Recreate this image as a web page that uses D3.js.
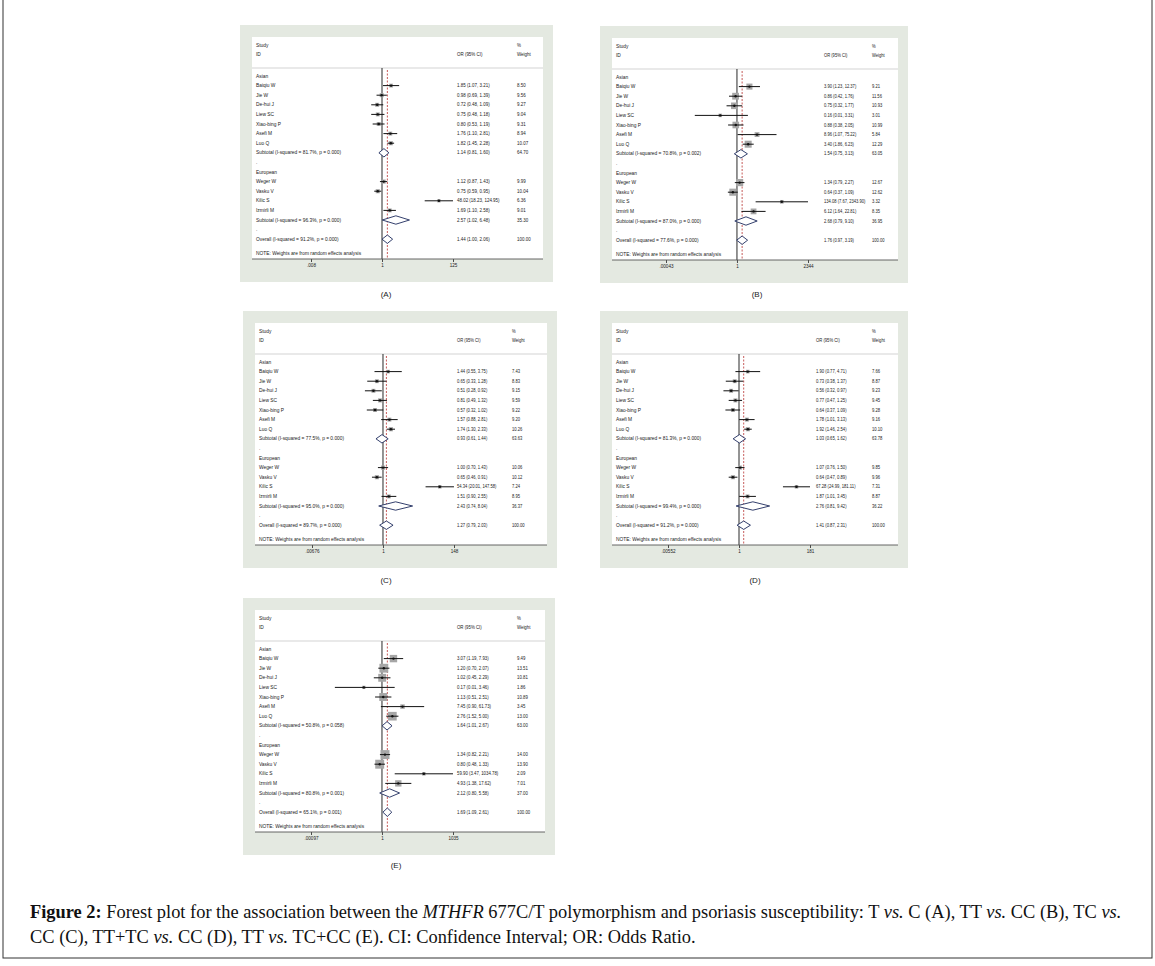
<!DOCTYPE html>
<html>
<head>
<meta charset="utf-8">
<title>forest plots</title>
<script src="https://cdn.jsdelivr.net/npm/d3@7/dist/d3.min.js"></script>
<style>
body{margin:0;background:#fff;}
svg text{font-family:"Liberation Sans",Arial,sans-serif;fill:#222;}
.cap text{font-family:"Liberation Serif","DejaVu Serif",serif;fill:#111;}
</style>
</head>
<body>
<script>
// study names, first 7 Asian, last 4 European
var studies=["Baiqiu W","Jie W","De-hui J","Liew SC","Xiao-bing P","Asefi M","Luo Q","Weger W","Vasku V","Kilic S","Izmirli M"];
var groups=["Asian","European"];

// (A) T vs C
var A_or=[1.85,0.98,0.72,0.75,0.80,1.76,1.82,1.12,0.75,48.02,1.69];
var A_lo=[1.07,0.69,0.48,0.48,0.53,1.10,1.45,0.87,0.59,18.23,1.10];
var A_hi=[3.21,1.39,1.09,1.18,1.19,2.81,2.28,1.43,0.95,124.95,2.58];
var A_wt=[8.50,9.56,9.27,9.04,9.31,8.94,10.07,9.99,10.04,6.36,9.01];
// subtotal Asian, subtotal European, overall
var A_sOr=[1.14,2.57,1.44], A_sLo=[0.81,1.02,1.00], A_sHi=[1.60,6.48,2.06], A_sWt=[64.70,35.30,100.00];
var A_isq=["81.7","96.3","91.2"], A_p=["0.000","0.000","0.000"];
var A_ticks=[0.008,1,125], A_tickLab=[".008","1","125"];

// (B) TT vs CC
var B_or=[3.90,0.86,0.75,0.16,0.88,8.96,3.40,1.34,0.64,134.08,6.12];
var B_lo=[1.23,0.42,0.32,0.01,0.38,1.07,1.86,0.79,0.37,7.67,1.64];
var B_hi=[12.37,1.76,1.77,3.31,2.05,75.22,6.23,2.27,1.09,2343.90,22.81];
var B_wt=[9.21,11.56,10.93,3.01,10.99,5.84,12.29,12.67,12.62,3.32,8.35];
var B_sOr=[1.54,2.68,1.76], B_sLo=[0.75,0.79,0.97], B_sHi=[3.13,9.10,3.19], B_sWt=[63.05,36.95,100.00];
var B_isq=["70.8","87.0","77.6"], B_p=["0.002","0.000","0.000"];
var B_ticks=[0.00043,1,2344], B_tickLab=[".00043","1","2344"];

// (C) TC vs CC
var C_or=[1.44,0.65,0.51,0.81,0.57,1.57,1.74,1.00,0.65,54.34,1.51];
var C_lo=[0.55,0.33,0.28,0.49,0.32,0.88,1.30,0.70,0.46,20.01,0.90];
var C_hi=[3.75,1.28,0.92,1.32,1.02,2.81,2.33,1.43,0.91,147.58,2.55];
var C_wt=[7.43,8.83,9.15,9.59,9.22,9.20,10.26,10.06,10.12,7.24,8.95];
var C_sOr=[0.93,2.43,1.27], C_sLo=[0.61,0.74,0.79], C_sHi=[1.44,8.04,2.03], C_sWt=[63.63,36.37,100.00];
var C_isq=["77.5","95.0","89.7"], C_p=["0.000","0.000","0.000"];
var C_ticks=[0.00676,1,148], C_tickLab=[".00676","1","148"];

// (D) TT+TC vs CC
var D_or=[1.90,0.73,0.56,0.77,0.64,1.78,1.92,1.07,0.64,67.28,1.87];
var D_lo=[0.77,0.38,0.32,0.47,0.37,1.01,1.46,0.76,0.47,24.99,1.01];
var D_hi=[4.71,1.37,0.97,1.25,1.09,3.13,2.54,1.50,0.89,181.11,3.45];
var D_wt=[7.66,8.87,9.23,9.45,9.28,9.16,10.10,9.85,9.96,7.31,8.87];
var D_sOr=[1.03,2.76,1.41], D_sLo=[0.65,0.81,0.87], D_sHi=[1.62,9.42,2.31], D_sWt=[63.78,36.22,100.00];
var D_isq=["81.3","99.4","91.2"], D_p=["0.000","0.000","0.000"];
var D_ticks=[0.00552,1,181], D_tickLab=[".00552","1","181"];

// (E) TT vs TC+CC
var E_or=[3.07,1.20,1.02,0.17,1.13,7.45,2.76,1.34,0.80,59.90,4.93];
var E_lo=[1.19,0.70,0.45,0.01,0.51,0.90,1.52,0.82,0.48,3.47,1.38];
var E_hi=[7.93,2.07,2.29,3.46,2.51,61.73,5.00,2.21,1.33,1034.78,17.62];
var E_wt=[9.49,13.51,10.81,1.86,10.89,3.45,13.00,14.00,13.90,2.09,7.01];
var E_sOr=[1.64,2.12,1.69], E_sLo=[1.01,0.80,1.09], E_sHi=[2.67,5.58,2.61], E_sWt=[63.00,37.00,100.00];
var E_isq=["50.8","80.8","65.1"], E_p=["0.058","0.001","0.001"];
var E_ticks=[0.00097,1,1035], E_tickLab=[".00097","1","1035"];

var W=1155, H=966;
var f2=d3.format(".2f");
var step=9.6, fs=4.85, fn=4.6;	// fs: label column, fn: number columns (squeezed by p.sx)

var svg=d3.select("body").append("svg")
	.attr("width",W)
	.attr("height",H);

// layout of each panel (white plot area origin etc.)
var panels=[
	{name:"(A)", or:A_or, lo:A_lo, hi:A_hi, wt:A_wt, sOr:A_sOr, sLo:A_sLo, sHi:A_sHi, sWt:A_sWt, isq:A_isq, p:A_p, ticks:A_ticks, tickLab:A_tickLab,
		wx:252, wy:37, ww:291, nx:130, orx:205, wtx:265, bs:1.3, sx:0.97, lx:386, ly:297},
	{name:"(B)", or:B_or, lo:B_lo, hi:B_hi, wt:B_wt, sOr:B_sOr, sLo:B_sLo, sHi:B_sHi, sWt:B_sWt, isq:B_isq, p:B_p, ticks:B_ticks, tickLab:B_tickLab,
		wx:612, wy:38, ww:286, nx:125, orx:212, wtx:260, bs:2.0, sx:0.89, lx:757, ly:297},
	{name:"(C)", or:C_or, lo:C_lo, hi:C_hi, wt:C_wt, sOr:C_sOr, sLo:C_sLo, sHi:C_sHi, sWt:C_sWt, isq:C_isq, p:C_p, ticks:C_ticks, tickLab:C_tickLab,
		wx:255, wy:323, ww:292, nx:128, orx:202, wtx:257, bs:1.3, sx:0.9, lx:386, ly:583},
	{name:"(D)", or:D_or, lo:D_lo, hi:D_hi, wt:D_wt, sOr:D_sOr, sLo:D_sLo, sHi:D_sHi, sWt:D_sWt, isq:D_isq, p:D_p, ticks:D_ticks, tickLab:D_tickLab,
		wx:612, wy:323, ww:286, nx:127, orx:204, wtx:260, bs:1.3, sx:0.91, lx:755, ly:583},
	{name:"(E)", or:E_or, lo:E_lo, hi:E_hi, wt:E_wt, sOr:E_sOr, sLo:E_sLo, sHi:E_sHi, sWt:E_sWt, isq:E_isq, p:E_p, ticks:E_ticks, tickLab:E_tickLab,
		wx:255, wy:610, ww:290, nx:127, orx:202, wtx:262, bs:2.4, sx:0.94, lx:396, ly:868}
];

function buildRows(p){
	var rows=[];
	var idx=[[0,1,2,3,4,5,6],[7,8,9,10]];
	for (var g=0; g<2; g++) {
		rows.push({type:"group", label:groups[g]});
		for (var j=0; j<idx[g].length; j++) {
			var i=idx[g][j];
			rows.push({type:"study", label:studies[i], or:p.or[i], lo:p.lo[i], hi:p.hi[i], wt:p.wt[i]});
		}
		rows.push({type:"sum", label:"Subtotal  (I-squared = "+p.isq[g]+"%, p = "+p.p[g]+")",
			or:p.sOr[g], lo:p.sLo[g], hi:p.sHi[g], wt:p.sWt[g]});
		rows.push({type:"dot", label:"."});
	}
	rows.push({type:"sum", label:"Overall  (I-squared = "+p.isq[2]+"%, p = "+p.p[2]+")",
		or:p.sOr[2], lo:p.sLo[2], hi:p.sHi[2], wt:p.sWt[2]});
	return rows;
}

function drawPanel(p){
	var g=svg.append("g").attr("transform","translate("+p.wx+","+p.wy+")");
	g.append("rect")
		.attr("x",-12).attr("y",-12)
		.attr("width",p.ww+22).attr("height",257)
		.attr("fill","#e4e9e1");
	g.append("rect")
		.attr("x",0).attr("y",0)
		.attr("width",p.ww).attr("height",222)
		.attr("fill","#fff");

	var x=d3.scaleLog()
		.domain([p.ticks[0],p.ticks[2]])
		.range([p.nx-71,p.nx+71]);
	var rows=buildRows(p);
	var y=function (i) { return 39+i*step; };

	// number columns: squeezed horizontally to match the narrow Stata digits
	var gOr=g.append("g").attr("transform","translate("+p.orx+",0) scale("+p.sx+",1)").attr("font-size",fn);
	var gWt=g.append("g").attr("transform","translate("+p.wtx+",0) scale("+p.sx+",1)").attr("font-size",fn);

	// header
	var hd=g.append("g").attr("font-size",fs);
	hd.append("text").attr("x",4).attr("y",10).text("Study");
	hd.append("text").attr("x",4).attr("y",19).text("ID");
	gOr.append("text").attr("x",0).attr("y",19).text("OR (95% CI)");
	gWt.append("text").attr("x",0).attr("y",10).text("%");
	gWt.append("text").attr("x",0).attr("y",19).text("Weight");
	g.append("line")
		.attr("x1",0).attr("x2",p.ww)
		.attr("y1",31).attr("y2",31)
		.attr("stroke","#c8c8c8").attr("stroke-width",0.8);

	// reference lines
	g.append("line")
		.attr("x1",x(1)).attr("x2",x(1))
		.attr("y1",31).attr("y2",222)
		.attr("stroke","#111").attr("stroke-width",0.9);
	g.append("line")
		.attr("x1",x(p.sOr[2])).attr("x2",x(p.sOr[2]))
		.attr("y1",33).attr("y2",222)
		.attr("stroke","#b8312f").attr("stroke-width",0.8)
		.attr("stroke-dasharray","2,1.5");

	// row labels
	g.selectAll(".lab")
		.data(rows)
		.enter()
		.append("text")
		.attr("class","lab")
		.attr("x",4)
		.attr("y",function (d,i) { return y(i); })
		.attr("dy","0.35em")
		.attr("font-size",fs)
		.text(function (d) { return d.label; });

	var est=rows.filter(function (d) { return d.or!==undefined; });
	est.forEach(function (d) { d.y=y(rows.indexOf(d)); });

	gOr.selectAll(".ortxt")
		.data(est)
		.enter()
		.append("text")
		.attr("x",0)
		.attr("y",function (d) { return d.y; })
		.attr("dy","0.35em")
		.text(function (d) { return f2(d.or)+" ("+f2(d.lo)+", "+f2(d.hi)+")"; });
	gWt.selectAll(".wttxt")
		.data(est)
		.enter()
		.append("text")
		.attr("x",0)
		.attr("y",function (d) { return d.y; })
		.attr("dy","0.35em")
		.text(function (d) { return f2(d.wt); });

	var st=est.filter(function (d) { return d.type=="study"; });
	g.selectAll(".box")
		.data(st)
		.enter()
		.append("rect")
		.attr("x",function (d) { return x(d.or)-p.bs*Math.sqrt(d.wt)/2; })
		.attr("y",function (d) { return d.y-p.bs*Math.sqrt(d.wt)/2; })
		.attr("width",function (d) { return p.bs*Math.sqrt(d.wt); })
		.attr("height",function (d) { return p.bs*Math.sqrt(d.wt); })
		.attr("fill","#a6a6a6");
	g.selectAll(".ci")
		.data(st)
		.enter()
		.append("line")
		.attr("x1",function (d) { return x(d.lo); })
		.attr("x2",function (d) { return x(d.hi); })
		.attr("y1",function (d) { return d.y; })
		.attr("y2",function (d) { return d.y; })
		.attr("stroke","#111").attr("stroke-width",1);
	g.selectAll(".pt")
		.data(st)
		.enter()
		.append("circle")
		.attr("cx",function (d) { return x(d.or); })
		.attr("cy",function (d) { return d.y; })
		.attr("r",1.2)
		.attr("fill","#111");

	var sm=est.filter(function (d) { return d.type=="sum"; });
	g.selectAll(".dia")
		.data(sm)
		.enter()
		.append("path")
		.attr("d",function (d) {
			return "M"+x(d.lo)+","+d.y+"L"+x(d.or)+","+(d.y-4.2)+"L"+x(d.hi)+","+d.y+"L"+x(d.or)+","+(d.y+4.2)+"Z";
		})
		.attr("fill","#fff")
		.attr("stroke","#1d2a5c")
		.attr("stroke-width",0.9);

	g.append("text")
		.attr("x",4).attr("y",216)
		.attr("dy","0.35em")
		.attr("font-size",fs)
		.text("NOTE: Weights are from random effects analysis");

	// axis
	var ax=g.append("g")
		.attr("transform","translate(0,222)")
		.call(d3.axisBottom(x)
			.tickValues(p.ticks)
			.tickFormat(function (d,i) { return p.tickLab[i]; })
			.tickSize(3)
			.tickPadding(2));
	ax.select(".domain").remove();
	ax.selectAll("line").attr("stroke","#222").attr("stroke-width",0.8);
	ax.selectAll("text").attr("font-size",fn).attr("fill","#222");
	g.append("line")
		.attr("x1",0).attr("x2",p.ww)
		.attr("y1",222).attr("y2",222)
		.attr("stroke","#555").attr("stroke-width",0.9);

	svg.append("text")
		.attr("x",p.lx).attr("y",p.ly)
		.attr("text-anchor","middle")
		.attr("font-size",8)
		.text(p.name);
}

panels.forEach(drawPanel);

// outer frame
svg.append("rect")
	.attr("x",3).attr("y",-2)
	.attr("width",1149).attr("height",960)
	.attr("fill","none")
	.attr("stroke","#333").attr("stroke-width",1);

// caption
var cap=svg.append("g").attr("class","cap").attr("font-size",16);
var line1=[["Figure 2:","b"],[" Forest plot for the association between the ",""],["MTHFR","i"],[" 677C/T polymorphism and psoriasis susceptibility: T ",""],["vs.","i"],[" C (A), TT ",""],["vs.","i"],[" CC (B), TC ",""],["vs.","i"]];
var line2=[["CC (C), TT+TC ",""],["vs.","i"],[" CC (D), TT ",""],["vs.","i"],[" TC+CC (E). CI: Confidence Interval; OR: Odds Ratio.",""]];
function capLine(parts,yy){
	var t=cap.append("text").attr("x",30).attr("y",yy);
	parts.forEach(function (s) {
		var ts=t.append("tspan").text(s[0]);
		if(s[1]=="b") ts.attr("font-weight","bold");
		if(s[1]=="i") ts.attr("font-style","italic");
	});
	return t;
}
var t1=capLine(line1,918);
capLine(line2,943);
// first caption line runs to about x=1122 in the figure
var wLine=t1.node().getComputedTextLength();
cap.attr("font-size",16*1092/wLine);
</script>
</body>
</html>
